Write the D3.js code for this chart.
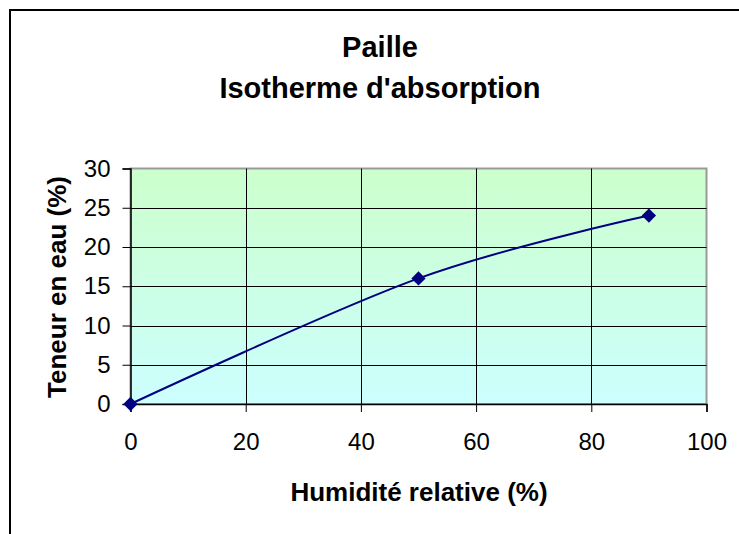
<!DOCTYPE html>
<html><head><meta charset="utf-8">
<script src="https://cdn.jsdelivr.net/npm/d3@7"></script>
<style>body{margin:0;background:#fff}svg{display:block}</style>
</head><body>
<script>
const humidity = [0, 50, 90];
const moisture = [0, 16, 24];
const xTicks = [0, 20, 40, 60, 80, 100];
const yTicks = [0, 5, 10, 15, 20, 25, 30];
const titleLines = ["Paille", "Isotherme d'absorption"];
const xTitle = "Humidité relative (%)";
const yTitle = "Teneur en eau (%)";

const W = 739, H = 534;
const svg = d3.select("body").append("svg").attr("width", W).attr("height", H);
const font = "'Liberation Sans', Arial, sans-serif";

// outer chart border (clipped at right/bottom)
svg.append("rect").attr("x", 10).attr("y", 10).attr("width", 740).attr("height", 540)
  .attr("fill", "#fff").attr("stroke", "#000").attr("stroke-width", 2);

const L = 130.5, R = 706.5, T = 168.5, B = 404;
const x = d3.scaleLinear().domain([0, 100]).range([L, R]);
const y = d3.scaleLinear().domain([0, 30]).range([B, T]);

const defs = svg.append("defs");
const g = defs.append("linearGradient").attr("id", "bg").attr("x1", 0).attr("y1", 0).attr("x2", 0).attr("y2", 1);
g.append("stop").attr("offset", 0).attr("stop-color", "#ccffcc");
g.append("stop").attr("offset", 1).attr("stop-color", "#ccffff");

svg.append("rect").attr("x", L).attr("y", T).attr("width", R - L).attr("height", B - T)
  .attr("fill", "url(#bg)").attr("stroke", "#999").attr("stroke-width", 2);

// gridlines
svg.append("g").selectAll("line").data(yTicks.filter(d => d > 0 && d < 30)).join("line")
  .attr("x1", L).attr("x2", R).attr("y1", d => Math.round(y(d)) + 0.5).attr("y2", d => Math.round(y(d)) + 0.5)
  .attr("stroke", "#000").attr("stroke-width", 1);
svg.append("g").selectAll("line").data(xTicks.filter(d => d > 0 && d < 100)).join("line")
  .attr("y1", T).attr("y2", B).attr("x1", d => Math.round(x(d)) + 0.5).attr("x2", d => Math.round(x(d)) + 0.5)
  .attr("stroke", "#000").attr("stroke-width", 1);

// axes
const xAxis = svg.append("g").attr("transform", `translate(0,${B})`)
  .call(d3.axisBottom(x).tickValues(xTicks).tickSize(8).tickPadding(21));
const yAxis = svg.append("g").attr("transform", `translate(${L},0)`)
  .call(d3.axisLeft(y).tickValues(yTicks).tickSize(8).tickPadding(12));
[xAxis, yAxis].forEach(a => {
  a.select(".domain").attr("stroke", "#000").attr("stroke-width", 1.5);
  a.selectAll(".tick line").attr("stroke", "#000");
  a.selectAll("text").attr("font-family", font).attr("font-size", 24).attr("fill", "#000");
});

// line
const pts = humidity.map((h, i) => [h, moisture[i]]);
svg.append("path").datum(pts)
  .attr("d", d3.line().x(d => x(d[0])).y(d => y(d[1])).curve(d3.curveCardinal.tension(0)))
  .attr("fill", "none").attr("stroke", "#000080").attr("stroke-width", 2);
svg.append("g").selectAll("path").data(pts).join("path")
  .attr("d", d3.symbol().type(d3.symbolDiamond2).size(130))
  .attr("transform", d => `translate(${x(d[0])},${y(d[1])})`)
  .attr("fill", "#000080");

// titles
svg.append("g").selectAll("text").data(titleLines).join("text")
  .attr("x", 380).attr("y", (d, i) => 57 + i * 41).attr("text-anchor", "middle")
  .attr("font-family", font).attr("font-weight", "bold").attr("font-size", 29).text(d => d);
svg.append("text").attr("x", 419).attr("y", 501).attr("text-anchor", "middle")
  .attr("font-family", font).attr("font-weight", "bold").attr("font-size", 26).text(xTitle);
svg.append("text").attr("transform", "translate(66,287) rotate(-90)").attr("text-anchor", "middle")
  .attr("font-family", font).attr("font-weight", "bold").attr("font-size", 26).text(yTitle);
</script>
</body></html>
